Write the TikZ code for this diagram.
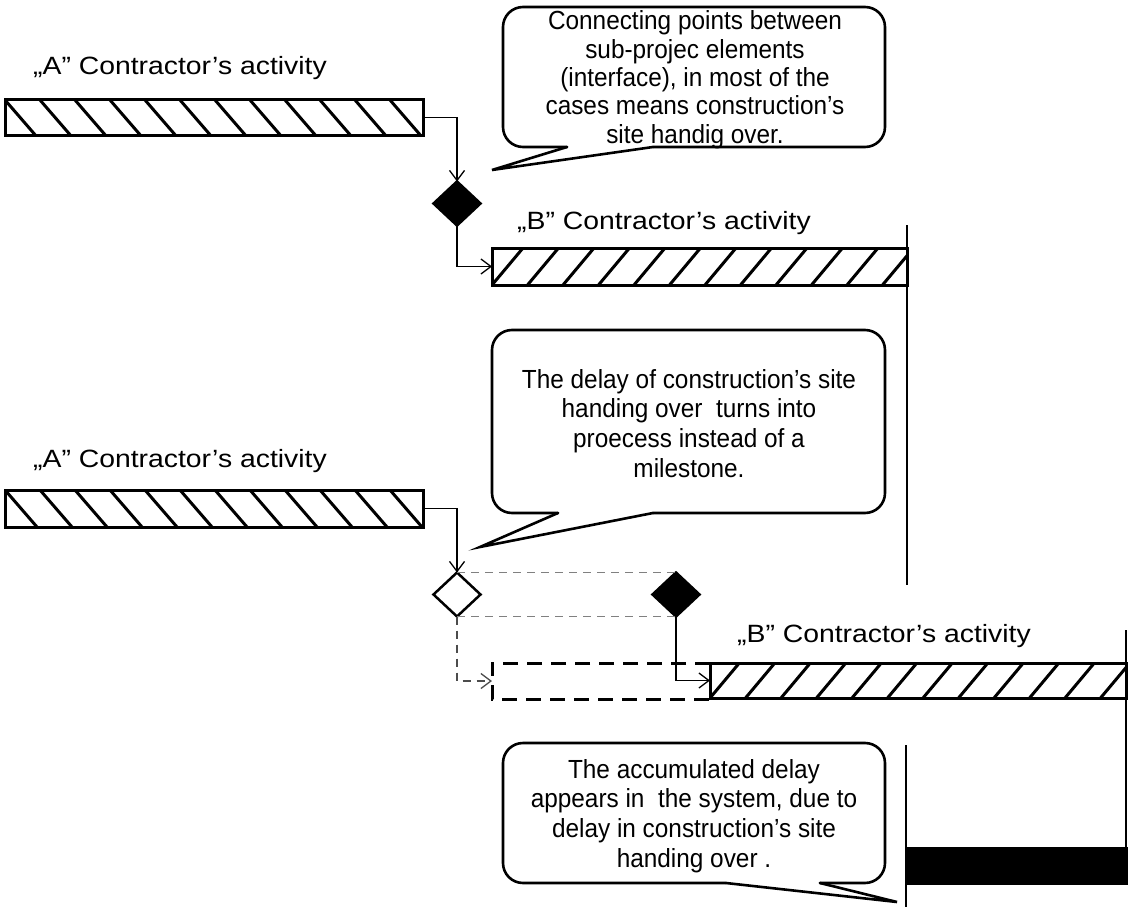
\documentclass[tikz,border=0pt]{standalone}
\usepackage{fontspec}
\setmainfont{Liberation Sans}
\usepackage{graphicx}
\usetikzlibrary{shapes.geometric,arrows.meta,calc}
\tikzset{
  bar/.style={rectangle, draw, line width=3pt, inner sep=0pt, outer sep=0pt},
  hatchback/.style={path picture={
      \foreach \i in {0,...,12}{
        \draw[line width=3pt] ($(path picture bounding box.north west)+(\i*35,0)$) -- ++(32,37);}}},
  hatchfwd/.style={path picture={
      \foreach \i in {0,...,12}{
        \draw[line width=3pt] ($(path picture bounding box.south west)+(\i*35.5,0)$) -- ++(31,-37);}}},
  milestone/.style={diamond, draw, line width=2.5pt, minimum width=47pt, minimum height=44pt, inner sep=0pt, outer sep=0pt},
  conn/.style={line width=1.3pt, -{Straight Barb[length=10pt,width=15pt,line width=1.3pt]}},
  grayd/.style={line width=1.7pt, draw=black!50, dash pattern=on 8pt off 6pt},
  ghostline/.style={line width=3pt, dash pattern=on 15pt off 9pt},
  callout/.style={line width=2.6pt, line cap=round},
  vline/.style={line width=1.4pt},
  actlabel/.style={anchor=base west, inner sep=0pt, font=\fontsize{25}{29}\selectfont},
  callouttext/.style={anchor=base, inner sep=0pt},
}
\begin{document}
\begin{tikzpicture}[x=1pt,y=-1pt,line join=miter]
\useasboundingbox (0,0) rectangle (1128,907);

% ---------- upper scheme ----------
\node[actlabel] (LA1) at (33,75) {\scalebox{1.134}[1]{„A” Contractor’s activity}};
\node[bar, hatchback, minimum width=418pt, minimum height=35pt] (A1) at (214,117.5) {};
\node[milestone, fill=black] (d1) at (457,203.5) {};
\node[actlabel] (LB1) at (517,229) {\scalebox{1.134}[1]{„B” Contractor’s activity}};
\node[bar, hatchfwd, minimum width=415pt, minimum height=37pt] (B1) at (699.5,266.5) {};
\draw[conn] (A1.east) -| (d1.north);
\draw[conn] (d1.south) |- (B1.west);
\draw[vline] (907,225) -- (907,585);

% callout 1
\draw[callout, rounded corners=20pt] (653,147) -- (885,147) -- (885,7) -- (503,7) -- (503,147) -- (567,147);
\draw[callout] (567,147) -- (492,170) -- (653,147);
\node[callouttext, font=\fontsize{26.2}{28.3}\selectfont] (T1) at (695,30) {\scalebox{0.93}[1]{\begin{tabular}[t]{@{}c@{}}Connecting points between\\ sub-projec elements\\ (interface), in most of the\\ cases means construction’s\\ site handig over.\end{tabular}}};

% ---------- lower scheme ----------
\node[actlabel] (LA2) at (33,467) {\scalebox{1.134}[1]{„A” Contractor’s activity}};
\node[bar, hatchback, minimum width=418pt, minimum height=37pt] (A2) at (214,508.5) {};

% callout 2
\draw[callout, rounded corners=20pt] (653,513) -- (885,513) -- (885,330) -- (492,330) -- (492,513) -- (558,513);
\draw[callout] (558,513) -- (480,547) -- (653,513);
\node[callouttext, font=\fontsize{26.2}{29.7}\selectfont] (T2) at (689,388) {\scalebox{0.93}[1]{\begin{tabular}[t]{@{}c@{}}The delay of construction’s site\\ handing over\ \ turns into\\ proecess instead of a\\ milestone.\end{tabular}}};

\node[milestone, fill=white] (d2) at (457,594.5) {};
\node[milestone, fill=black] (d3) at (676,594.5) {};
\node[minimum width=218pt, minimum height=36pt, inner sep=0pt, outer sep=0pt] (G) at (601,681) {};
\node[actlabel] (LB2) at (737,642) {\scalebox{1.134}[1]{„B” Contractor’s activity}};
\node[bar, hatchfwd, minimum width=417pt, minimum height=35pt] (B2) at (918.5,680.5) {};

\draw[conn] (A2.east) -| (d2.north);
\draw[grayd] (d2.north) -- (d3.north);
\draw[grayd] (d2.south) -- (d3.south);
\draw[ghostline] (G.north east) -- (G.north west) -- (G.south west) -- (G.south east);
\draw[conn, draw=black!70, dash pattern=on 8pt off 6pt] (d2.south) |- (G.west);
\draw[conn] (d3.south) |- (B2.west);
\draw[vline] (1126,630) -- (1126,848);

% ---------- accumulated delay ----------
\draw[callout, rounded corners=20pt] (726,883) -- (503,883) -- (503,743) -- (885,743) -- (885,883) -- (820,883);
\draw[callout] (820,883) -- (897,902) -- (726,883);
\node[callouttext, font=\fontsize{26.2}{29.7}\selectfont] (T3) at (694,778) {\scalebox{0.93}[1]{\begin{tabular}[t]{@{}c@{}}The accumulated delay\\ appears in\ \ the system, due to\\ delay in construction’s site\\ handing over .\end{tabular}}};
\draw[vline] (906,745) -- (906,907);
\node[fill=black, minimum width=222pt, minimum height=38pt, inner sep=0pt, anchor=north west] (D) at (906,847) {};
\end{tikzpicture}
\end{document}
